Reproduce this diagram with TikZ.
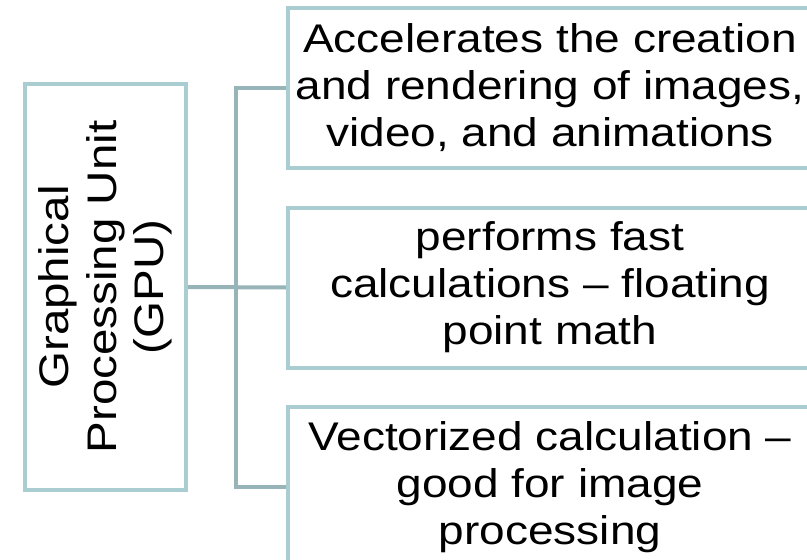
\documentclass[tikz,border=0pt]{standalone}
\usepackage{fontspec}
\setmainfont{Liberation Sans}[FakeStretch=1.15]
\pgfdeclarelayer{background}
\pgfsetlayers{background,main}
\definecolor{boxline}{HTML}{A9CDD1}
\definecolor{linkline}{HTML}{97B5B9}
\tikzset{
  boxtext/.style={font=\fontsize{30}{35.25}\selectfont, align=center},
  itembox/.style={boxtext, draw=boxline, line width=3pt, fill=white,
    minimum width=393pt, minimum height=120pt, inner sep=0pt},
  mainbox/.style={font=\fontsize{31}{35.5}\selectfont, align=center,
    draw=boxline, line width=3pt, fill=white,
    rotate=90, minimum width=304.5pt, minimum height=120.75pt, inner sep=0pt},
  link/.style={draw=linkline, line width=3pt},
}
\begin{document}
\begin{tikzpicture}[x=0.75pt, y=-0.75pt]
  \useasboundingbox (0,0) rectangle (807,560);
  \clip (0,0) rectangle (807,560);

  % root box, text running bottom to top
  \node[mainbox] (gpu) at (105.5,287) {Graphical\\Processing Unit\\(GPU)};

  % three feature boxes
  \node[itembox] (b1) at (550,88) {Accelerates the creation\\and rendering of images,\\video, and animations};
  \node[itembox] (b2) at (550,287.5) {performs fast\\calculations – floating\\point math};
  \node[itembox] (b3) at (550,487) {Vectorized calculation –\\good for image\\processing};

  % white page and tree connectors behind the boxes
  \begin{pgfonlayer}{background}
    \fill[white] (0,0) rectangle (807,560);
    \draw[link] (gpu.south) -- (b2.west);
    \draw[link] (b1.west) -- ++(-50,0) |- (b3.west);
  \end{pgfonlayer}
\end{tikzpicture}
\end{document}
